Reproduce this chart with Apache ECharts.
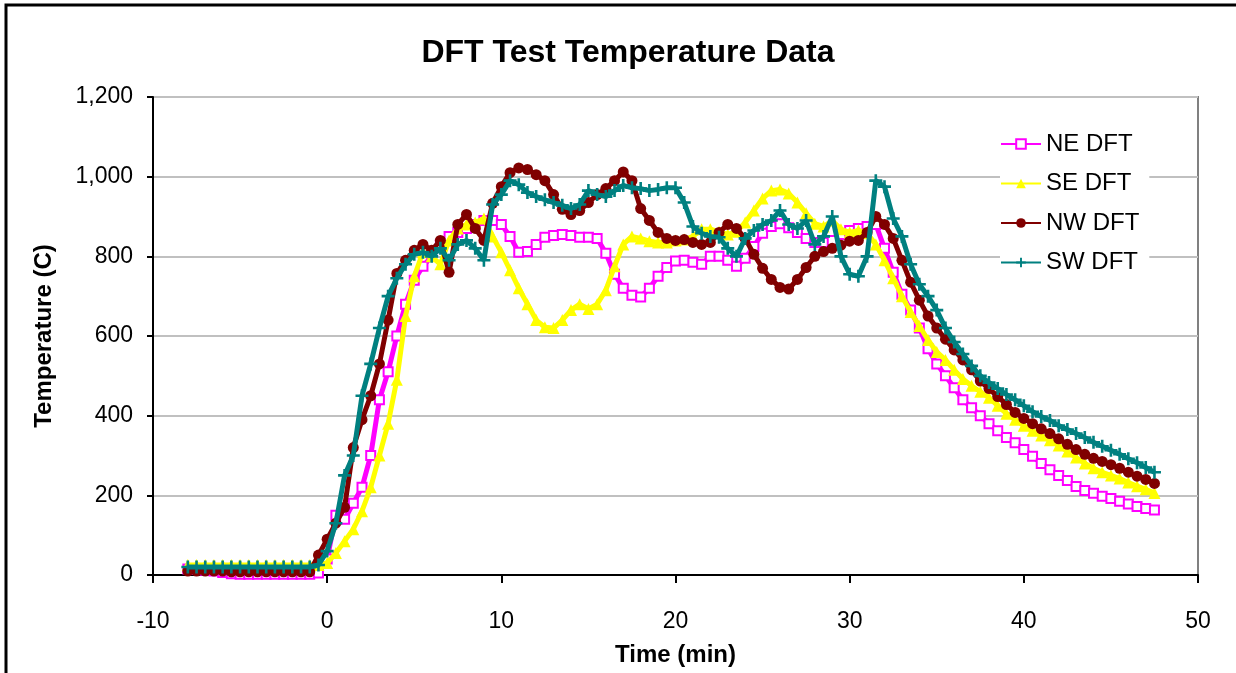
<!DOCTYPE html>
<html>
<head>
<meta charset="utf-8">
<script src="https://cdn.jsdelivr.net/npm/echarts@6/dist/echarts.min.js"></script>
<style>html,body{margin:0;padding:0;background:#fff;}#c{width:1236px;height:673px;}</style>
</head>
<body>
<div id="c"></div>
<script>
// time in minutes, every 0.5 min from -8 to 47.5
const timeMin = [];
for (let i = 0; i < 112; i++) timeMin.push(-8 + 0.5 * i);

const seriesNames = ['NE DFT', 'SE DFT', 'NW DFT', 'SW DFT'];
const yTicks = [0, 200, 400, 600, 800, 1000, 1200];
const xTicks = [-10, 0, 10, 20, 30, 40, 50];

const neDFT = [15,14,12,10,6,3,2,2,2,2,2,2,2,2,2,5,
  40,150,140,180,220,300,440,510,600,680,740,775,800,830,850,860,870,880,890,890,
  880,850,810,812,830,848,852,855,852,848,848,845,808,755,720,702,698,720,750,772,
  788,790,785,780,800,800,790,775,795,825,858,875,882,872,860,845,835,835,840,855,
  865,870,875,880,820,760,705,665,620,568,530,500,470,440,420,400,380,362,345,332,
  315,298,280,264,250,237,222,212,205,198,192,185,178,172,167,163];

const seDFT = [25,25,25,25,25,25,25,25,25,25,25,25,25,25,25,25,
  30,55,85,115,160,220,300,380,490,650,750,810,800,780,840,870,880,885,895,850,
  810,765,720,680,640,622,620,640,665,680,668,680,715,775,830,850,845,838,835,835,
  840,842,850,868,868,862,855,862,885,915,945,965,968,958,935,908,882,875,890,868,
  860,865,858,830,790,745,700,660,625,590,560,540,515,492,475,460,445,425,405,390,
  375,362,350,338,325,310,295,280,268,258,250,242,232,223,215,206];

const nwDFT = [10,10,10,10,10,8,8,8,8,8,8,8,8,8,8,50,
  90,130,170,320,390,450,530,640,757,790,815,830,815,840,760,880,905,870,840,933,
  975,1010,1022,1018,1005,990,955,918,905,915,935,955,970,990,1012,990,920,890,860,845,
  840,842,835,830,835,860,880,870,845,805,770,742,722,718,742,772,800,812,820,828,
  838,840,860,900,880,845,790,735,690,650,620,592,565,540,515,487,468,448,428,408,
  393,380,367,355,342,328,315,303,293,285,277,268,258,248,240,230];

const swDFT = [20,20,20,20,20,20,20,20,20,20,20,20,20,20,20,25,
  60,130,250,300,450,530,620,700,745,780,805,810,800,820,790,830,840,820,790,930,
  955,990,980,960,950,942,935,928,920,930,965,955,950,965,978,972,970,965,968,972,
  972,935,875,858,850,848,820,800,845,865,880,890,915,880,870,890,830,850,900,800,
  755,750,800,990,975,895,850,780,730,700,665,620,585,555,525,500,483,468,453,440,
  425,410,398,388,375,365,355,345,333,323,313,303,292,282,270,258];

const colors = ['#FF00FF', '#FFFF00', '#800000', '#008080'];
const symbols = ['emptyRect', 'triangle', 'circle', 'path://M4,0H6V4H10V6H6V10H4V6H0V4H4Z'];
const symbolSizes = [9, 12, 11, 13];
const valueSets = [neDFT, seDFT, nwDFT, swDFT];

const chart = echarts.init(document.getElementById('c'), null, {renderer: 'canvas'});
const font = 'Liberation Sans, Arial, sans-serif';

const series = seriesNames.map((name, k) => ({
  name: name,
  type: 'line',
  data: timeMin.map((t, i) => [t, valueSets[k][i]]),
  symbol: symbols[k],
  symbolSize: symbolSizes[k],
  showAllSymbol: true,
  lineStyle: {color: colors[k], width: 5},
  itemStyle: {color: colors[k], borderColor: colors[k], borderWidth: k === 0 ? 2 : 0},
  emphasis: {disabled: true},
  animation: false,
  z: 2 + k
}));

chart.setOption({
  backgroundColor: '#fff',
  animation: false,
  title: {
    text: 'DFT Test Temperature Data',
    left: 623, top: 32, textAlign: 'center',
    textStyle: {fontFamily: font, fontWeight: 'bold', fontSize: 32, color: '#000'}
  },
  legend: {
    orient: 'vertical',
    left: 1000, top: 128,
    backgroundColor: '#fff',
    padding: [4, 10, 4, 0],
    itemWidth: 40, itemHeight: 12, itemGap: 15.5,
    lineStyle: {width: 2},
    textStyle: {fontFamily: font, fontSize: 24, color: '#000'},
    data: seriesNames
  },
  grid: {left: 153, right: 38, top: 97, bottom: 98, show: true, borderColor: '#808080', borderWidth: 2, backgroundColor: 'transparent'},
  xAxis: {
    type: 'value', min: xTicks[0], max: xTicks[xTicks.length - 1], interval: 10,
    name: 'Time (min)', nameLocation: 'middle', nameGap: 68,
    nameTextStyle: {fontFamily: font, fontWeight: 'bold', fontSize: 24, color: '#000'},
    axisLine: {onZero: false, lineStyle: {color: '#000', width: 2}},
    axisTick: {inside: false, length: 8, lineStyle: {color: '#000', width: 2}},
    axisLabel: {fontFamily: font, fontSize: 23, color: '#000', margin: 35},
    splitLine: {show: false}
  },
  yAxis: {
    type: 'value', min: yTicks[0], max: yTicks[yTicks.length - 1], interval: 200,
    name: 'Temperature (C)', nameLocation: 'middle', nameGap: 97,
    nameTextStyle: {fontFamily: font, fontWeight: 'bold', fontSize: 24, color: '#000'},
    axisLine: {show: true, onZero: false, lineStyle: {color: '#000', width: 2}},
    axisTick: {show: true, inside: false, length: 6, lineStyle: {color: '#000', width: 2}},
    axisLabel: {fontFamily: font, fontSize: 23, color: '#000', margin: 20,
      formatter: v => v.toLocaleString('en-US')},
    splitLine: {show: true, lineStyle: {color: '#c0c0c0', width: 2}}
  },
  graphic: [{
    type: 'rect', silent: true, z: 100,
    shape: {x: 6, y: 5, width: 1400, height: 900},
    style: {fill: 'none', stroke: '#000', lineWidth: 3}
  }],
  series: series
});
</script>
</body>
</html>
